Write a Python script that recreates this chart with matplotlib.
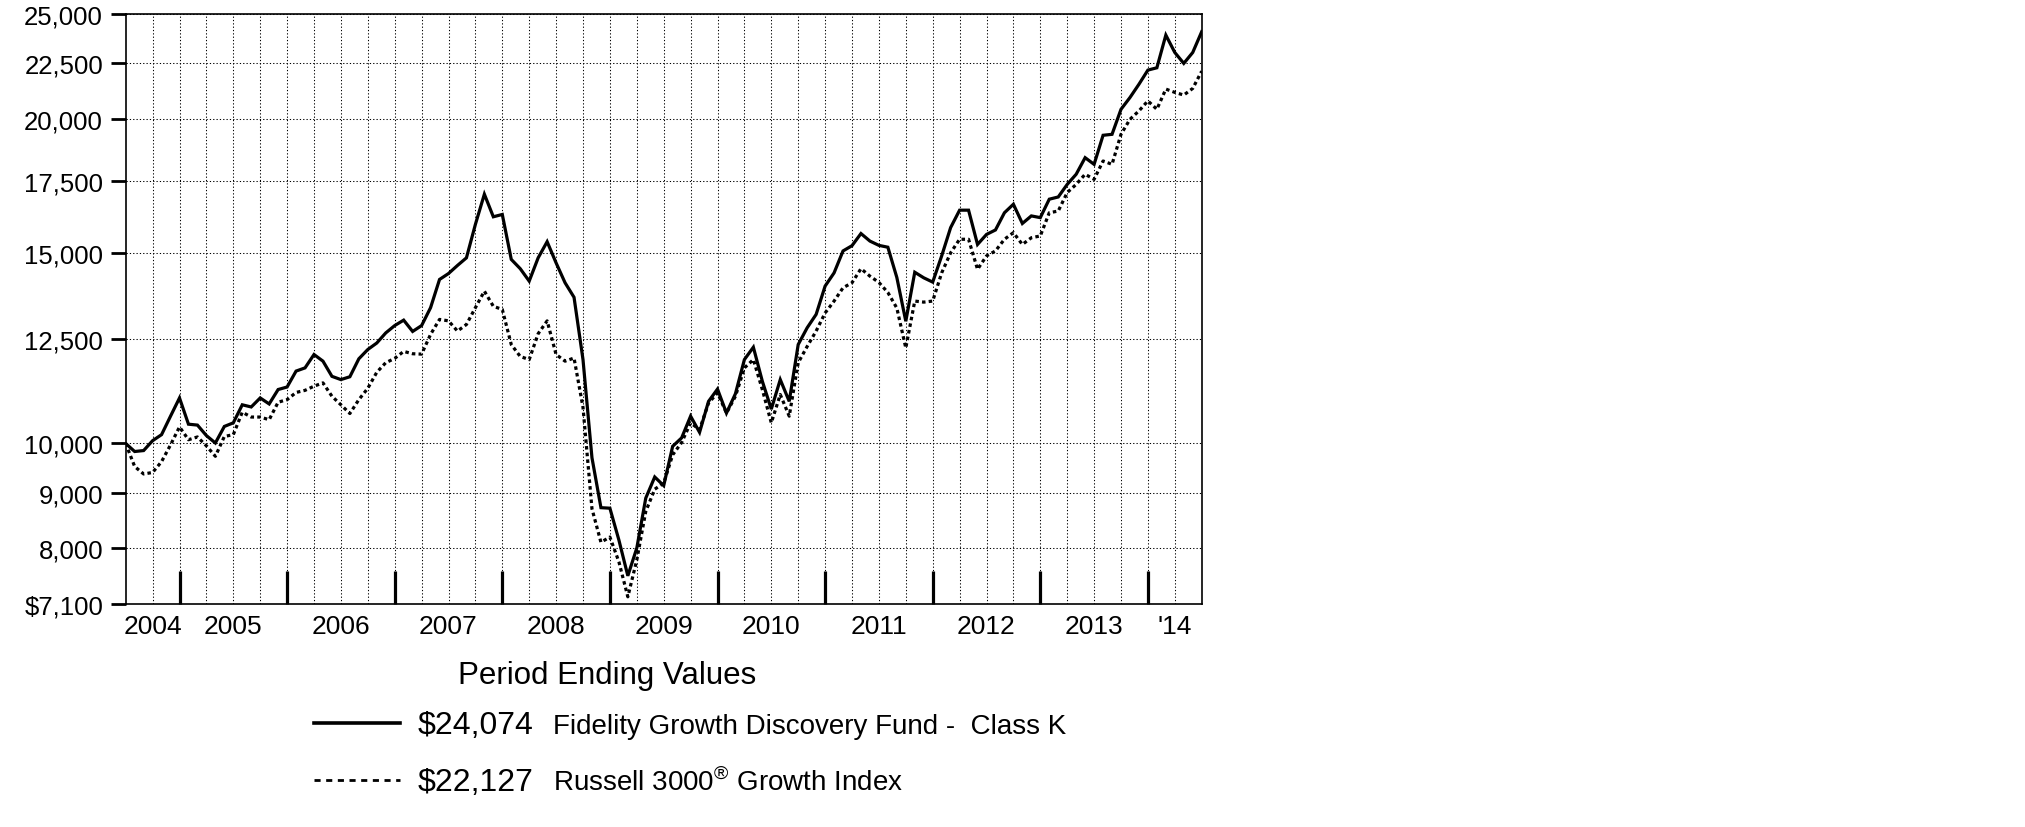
import numpy as np
import matplotlib
matplotlib.use("Agg")
import matplotlib.pyplot as plt
from matplotlib.lines import Line2D
from matplotlib.ticker import FixedLocator, NullLocator, NullFormatter
import matplotlib.transforms as mtransforms

plt.rcParams['font.family'] = ['Liberation Sans', 'DejaVu Sans']
plt.rcParams['mathtext.fontset'] = 'custom'
plt.rcParams['mathtext.rm'] = 'Liberation Sans'

# ---------------- data (month-end values, Jun 2004 .. Jun 2014) ----------------
fund_values = [
    10000, 9830, 9850, 10060, 10190, 10600, 11020, 10420, 10400, 10170,
    10010, 10370, 10450, 10860, 10810, 11020, 10880, 11220, 11280, 11670,
    11750, 12090, 11920, 11540, 11460, 11530, 11980, 12220, 12390, 12660,
    12860, 13010, 12700, 12860, 13360, 14190, 14370, 14620, 14860, 15960,
    17020, 16220, 16300, 14810, 14520, 14140, 14860, 15380, 14700, 14090,
    13660, 11960, 9700, 8720, 8710, 8140, 7540, 8000, 8900, 9310,
    9140, 9940, 10120, 10600, 10240, 10940, 11230, 10670, 11120, 11960,
    12280, 11420, 10760, 11460, 10940, 12350, 12800, 13170, 13990, 14390,
    15080, 15250, 15650, 15400, 15260, 15200, 14250, 12980, 14410, 14240,
    14110, 14920, 15850, 16450, 16450, 15290, 15620, 15770, 16360, 16660,
    15990, 16250, 16190, 16840, 16920, 17380, 17760, 18400, 18140, 19300,
    19340, 20400, 20920, 21520, 22180, 22290, 23900, 23030, 22500, 23030,
    24074,
]
index_values = [
    10000, 9520, 9370, 9400, 9620, 9970, 10360, 10080, 10140, 9950,
    9730, 10150, 10190, 10690, 10580, 10580, 10520, 10920, 10980, 11150,
    11200, 11300, 11380, 11060, 10860, 10660, 10980, 11250, 11640, 11880,
    11990, 12170, 12110, 12100, 12620, 13030, 12990, 12710, 12890, 13360,
    13840, 13400, 13310, 12350, 12040, 11960, 12640, 12990, 12090, 11920,
    12000, 10800, 8700, 8100, 8190, 7770, 7210, 7800, 8650, 9070,
    9190, 9760, 10020, 10450, 10300, 10900, 11140, 10670, 11060, 11750,
    11960, 11220, 10450, 11100, 10600, 11880, 12300, 12710, 13210, 13550,
    13940, 14090, 14520, 14290, 14100, 13800, 13350, 12260, 13550, 13520,
    13550, 14390, 15020, 15460, 15460, 14500, 14920, 15080, 15460, 15680,
    15290, 15510, 15570, 16360, 16420, 17080, 17380, 17760, 17570, 18270,
    18140, 19340, 19970, 20330, 20770, 20400, 21300, 21150, 21030, 21330,
    22127,
]
year_labels = ['2004', '2005', '2006', '2007', '2008', '2009', '2010',
               '2011', '2012', '2013', "'14"]
y_ticks = [7100, 8000, 9000, 10000, 12500, 15000, 17500, 20000, 22500, 25000]
y_tick_labels = ['$7,100', '8,000', '9,000', '10,000', '12,500', '15,000',
                 '17,500', '20,000', '22,500', '25,000']
legend_title = 'Period Ending Values'
fund_name = 'Fidelity Growth Discovery Fund -  Class K'
index_name = 'Russell 3000$^{\u00ae}$ Growth Index'
fund_end_label = '$24,074'
index_end_label = '$22,127'

# ---------------- figure ----------------
W, H = 2025, 828
fig = plt.figure(figsize=(W / 100, H / 100), dpi=100)
fig.patch.set_facecolor('white')

ax_l, ax_r, ax_t, ax_b = 125.7, 1201.7, 15, 605
ax = fig.add_axes([ax_l / W, 1 - ax_b / H, (ax_r - ax_l) / W, (ax_b - ax_t) / H])

n = len(fund_values)
x = np.arange(n)
first_month = 6  # June
ax.plot(x, fund_values, color='black', lw=2.3, solid_joinstyle='miter')
ax.plot(x, index_values, color='black', lw=2.3, linestyle=(0, (1.1, 1.0)))

ax.set_yscale('log')
ax.set_ylim(y_ticks[0], y_ticks[-1])
ax.set_xlim(0, n - 1)

ax.yaxis.set_major_locator(FixedLocator(y_ticks))
ax.yaxis.set_minor_locator(NullLocator())
ax.yaxis.set_minor_formatter(NullFormatter())
ax.set_yticklabels(y_tick_labels)
ax.tick_params(axis='y', which='major', direction='out', length=10.8, width=2.0,
               labelsize=18.5, pad=5.5, color='black')

# year boundaries (end of December) and quarter ends
year_ends = [m for m in range(n) if (first_month + m) % 12 == 0]
quarter_ends = [m for m in range(1, n - 1) if (first_month + m) % 3 == 0]
ax.xaxis.set_major_locator(FixedLocator(year_ends))
ax.xaxis.set_minor_locator(FixedLocator(quarter_ends))
ax.xaxis.set_major_formatter(NullFormatter())
ax.tick_params(axis='x', which='major', direction='in', length=23.8, width=2.3,
               color='black', labelbottom=False)
ax.tick_params(axis='x', which='minor', length=0)

grid_style = dict(color='black', linestyle=(0, (1.2, 2.0)), linewidth=0.75)
ax.yaxis.grid(True, which='major', **grid_style)
ax.xaxis.grid(True, which='both', **grid_style)
ax.set_axisbelow(True)

for sp in ax.spines.values():
    sp.set_linewidth(1.2)
    sp.set_color('black')

# year labels centred in each year's segment
bounds = [0] + year_ends + [n - 1]
trans = mtransforms.blended_transform_factory(ax.transData, ax.transAxes)
label_y = (ax_b - 634) / (ax_b - ax_t)
for i, lab in enumerate(year_labels):
    c = (bounds[i] + bounds[i + 1]) / 2
    ax.text(c, label_y, lab, transform=trans, ha='center', va='baseline',
            fontsize=19)

# ---------------- legend block ----------------
def fy(py):
    return 1 - py / H

fig.text(607 / W, fy(684), legend_title, ha='center', va='baseline', fontsize=22.5)

row1, row2 = 734, 791
fig.add_artist(Line2D([314 / W, 400 / W], [fy(row1 - 10)] * 2, color='black', lw=2.6))
fig.add_artist(Line2D([314 / W, 400 / W], [fy(row2 - 10)] * 2, color='black', lw=2.0,
                      linestyle=(0, (2.2, 2.0))))
fig.text(418 / W, fy(row1), fund_end_label, ha='left', va='baseline', fontsize=23)
fig.text(418 / W, fy(row2), index_end_label, ha='left', va='baseline', fontsize=23)
fig.text(552.6 / W, fy(row1), fund_name, ha='left', va='baseline', fontsize=20)
fig.text(552.6 / W, fy(row2), index_name, ha='left', va='baseline', fontsize=20)

fig.savefig('out.png', dpi=100, facecolor='white')
